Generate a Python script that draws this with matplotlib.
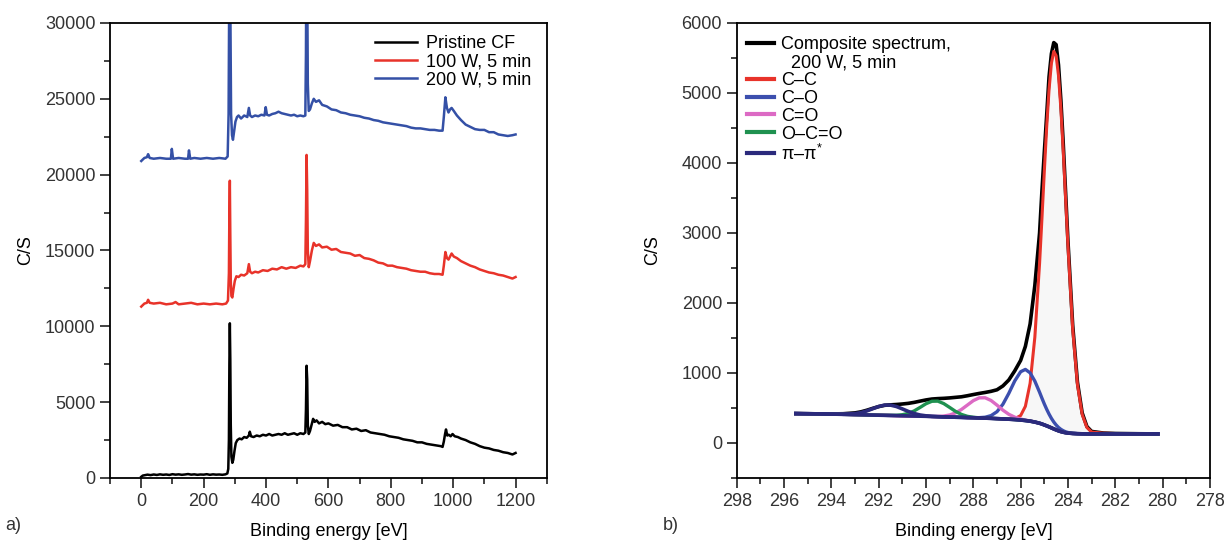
import matplotlib
matplotlib.use("Agg")
import matplotlib.pyplot as plt
from matplotlib.lines import Line2D
from matplotlib.ticker import MultipleLocator

plt.rcParams['font.family'] = ['Liberation Sans', 'DejaVu Sans']
plt.rcParams['font.size'] = 13
plt.rcParams['mathtext.fontset'] = 'custom'
plt.rcParams['mathtext.rm'] = 'Liberation Sans'

# ---- a) survey spectra (binding energy eV, counts/s) ----
pristine_be = [0, 5, 10, 20, 30, 40, 50, 60, 70, 80, 90, 100, 110, 120, 130, 140, 150, 160, 170, 180,
               190, 200, 210, 220, 230, 240, 250, 260, 270, 276, 279, 281, 282.5, 284, 285.5, 287, 289,
               292, 295, 299, 303, 308, 315, 322, 330, 338, 345, 348, 352, 360, 370, 380, 390, 400, 410,
               420, 430, 440, 450, 460, 470, 480, 490, 500, 510, 520, 526, 528, 530, 532, 534, 537, 541,
               546, 551, 556, 562, 570, 580, 590, 600, 615, 630, 645, 660, 675, 690, 705, 720, 735, 750,
               765, 780, 795, 810, 825, 840, 855, 870, 885, 900, 915, 930, 945, 960, 966, 970, 974, 977,
               981, 986, 992, 998, 1005, 1015, 1025, 1040, 1055, 1070, 1085, 1100, 1115, 1130, 1145,
               1160, 1175, 1190, 1200]
pristine_cs = [80, 160, 180, 220, 190, 230, 200, 240, 210, 230, 200, 250, 220, 240, 210, 230, 260, 220,
               240, 210, 230, 220, 250, 210, 240, 220, 230, 210, 240, 300, 600, 2500, 7500, 10200, 7800,
               3500, 1400, 1000, 1200, 1800, 2300, 2500, 2600, 2550, 2700, 2650, 2800, 3050, 2750, 2700,
               2800, 2750, 2850, 2800, 2900, 2800, 2850, 2900, 2850, 2950, 2850, 2900, 2950, 2850, 2950,
               2900, 3000, 4500, 7400, 6500, 3500, 2900, 3100, 3500, 3900, 3700, 3800, 3600, 3700, 3550,
               3600, 3450, 3500, 3350, 3350, 3200, 3250, 3100, 3150, 3000, 2950, 2900, 2850, 2750, 2700,
               2650, 2550, 2500, 2450, 2350, 2350, 2250, 2200, 2150, 2100, 2050, 2400, 2900, 3200, 2800,
               2850, 2750, 2900, 2750, 2700, 2600, 2500, 2350, 2250, 2100, 2000, 1950, 1850, 1800, 1700,
               1650, 1550, 1650]

w100_be = [0, 5, 10, 18, 22, 27, 40, 60, 80, 100, 110, 120, 140, 160, 180, 200, 220, 240, 260, 272, 278,
           281, 282.5, 284, 285.5, 287, 289, 292, 296, 300, 305, 312, 320, 330, 340, 345, 349, 355, 365,
           375, 390, 405, 420, 435, 450, 465, 480, 495, 510, 520, 526, 528, 530, 532, 534, 537, 541, 547,
           553, 560, 570, 580, 595, 610, 625, 640, 655, 670, 685, 700, 715, 730, 745, 760, 775, 790, 805,
           820, 835, 850, 865, 880, 895, 910, 925, 940, 955, 966, 970, 975, 980, 985, 990, 995, 1002,
           1012, 1025, 1040, 1055, 1070, 1085, 1100, 1115, 1130, 1145, 1160, 1175, 1190, 1200]
w100_cs = [11300, 11400, 11500, 11550, 11750, 11550, 11500, 11550, 11450, 11500, 11600, 11450, 11500,
           11550, 11450, 11500, 11450, 11500, 11450, 11500, 11700, 13500, 17500, 19600, 16000, 13000,
           12000, 11900, 12500, 13000, 13300, 13250, 13400, 13350, 13500, 14100, 13600, 13500, 13600,
           13550, 13700, 13650, 13800, 13750, 13900, 13800, 13900, 13850, 14000, 13950, 14100, 17000,
           21300, 19000, 15000, 13900, 14300, 15000, 15500, 15300, 15400, 15200, 15250, 15050, 15100,
           14900, 14850, 14800, 14650, 14700, 14500, 14450, 14350, 14200, 14150, 14000, 14000, 13900,
           13850, 13800, 13700, 13650, 13600, 13600, 13500, 13450, 13450, 13400, 14000, 14900, 14500,
           14400, 14600, 14800, 14600, 14500, 14300, 14150, 14000, 13900, 13750, 13650, 13550, 13500,
           13400, 13350, 13250, 13150, 13250]

w200_be = [0, 5, 10, 18, 22, 27, 40, 60, 80, 95, 98, 102, 120, 140, 150, 153, 157, 170, 190, 210, 230,
           250, 270, 277, 280, 282, 284, 286, 288, 291, 294, 298, 302, 307, 312, 320, 330, 340, 345, 349,
           355, 365, 375, 385, 395, 399, 403, 410, 420, 430, 440, 450, 460, 470, 480, 490, 500, 510, 520,
           526, 528, 530, 532, 534, 537, 541, 547, 553, 560, 570, 580, 595, 610, 625, 640, 655, 670, 685,
           700, 715, 730, 745, 760, 775, 790, 805, 820, 835, 850, 865, 880, 895, 910, 925, 940, 955, 966,
           970, 975, 980, 985, 990, 995, 1002, 1012, 1025, 1040, 1055, 1070, 1085, 1100, 1115, 1130,
           1145, 1160, 1175, 1190, 1200]
w200_cs = [20900, 21000, 21100, 21150, 21350, 21100, 21050, 21100, 21050, 21050, 21700, 21050, 21100,
           21050, 21050, 21600, 21050, 21100, 21050, 21100, 21050, 21100, 21050, 21200, 24000, 32000,
           40000, 30000, 24000, 22600, 22300, 22900, 23500, 23800, 23900, 23700, 23900, 23800, 24400,
           23900, 23800, 23900, 23850, 23950, 23900, 24450, 23950, 23900, 24000, 24050, 24150, 24050,
           24000, 23950, 23900, 23950, 23850, 23900, 23850, 23900, 28000, 38000, 33000, 26000, 24200,
           24300, 24700, 25000, 24800, 24900, 24600, 24500, 24300, 24250, 24100, 24050, 23950, 23900,
           23850, 23750, 23700, 23600, 23550, 23450, 23400, 23350, 23300, 23250, 23200, 23100, 23050,
           23050, 23000, 22950, 22950, 22900, 22900, 23800, 25100, 24400, 24100, 24300, 24400, 24200,
           23900, 23600, 23300, 23150, 23000, 22950, 22950, 22800, 22800, 22650, 22600, 22550, 22600,
           22650]

# ---- b) C1s high resolution, 200 W, 5 min ----
c1s_be = [295.5, 295.0, 294.5, 294.0, 293.5, 293.0, 292.75, 292.5, 292.25, 292.0, 291.75, 291.5, 291.25,
          291.0, 290.75, 290.5, 290.25, 290.0, 289.75, 289.5, 289.25, 289.0, 288.75, 288.5, 288.25, 288.0,
          287.75, 287.5, 287.25, 287.0, 286.75, 286.5, 286.25, 286.0, 285.8, 285.6, 285.4, 285.2, 285.1,
          285.0, 284.9, 284.8, 284.7, 284.6, 284.5, 284.4, 284.3, 284.2, 284.1, 284.0, 283.8, 283.6,
          283.4, 283.2, 283.0, 282.5, 282.0, 281.0, 280.2]
background = [420, 418, 416, 413, 409, 405, 403, 401, 399, 397, 395, 393, 391, 389, 387, 385, 383, 381,
              378, 376, 373, 371, 368, 366, 363, 361, 358, 355, 352, 348, 344, 340, 335, 328, 321, 312,
              299, 282, 271, 258, 245, 231, 216, 201, 187, 174, 163, 154, 147, 142, 136, 133, 131, 130,
              130, 130, 130, 130, 130]
composite = [420, 418, 416, 415, 418, 430, 445, 468, 495, 520, 538, 545, 550, 557, 566, 580, 598, 615,
             628, 634, 638, 644, 652, 660, 675, 692, 708, 722, 738, 760, 815, 900, 1030, 1180, 1380, 1700,
             2250, 3000, 3600, 4150, 4680, 5230, 5560, 5720, 5690, 5400, 4900, 4280, 3580, 2880, 1680,
             870, 430, 235, 165, 142, 136, 132, 130]
c_c = [420, 418, 416, 413, 409, 405, 403, 401, 399, 397, 395, 393, 391, 389, 387, 385, 383, 381, 378,
       376, 373, 371, 368, 366, 363, 361, 358, 355, 352, 348, 344, 342, 347, 392, 524, 852, 1511, 2566,
       3208, 3878, 4514, 5048, 5425, 5594, 5532, 5249, 4778, 4169, 3494, 2812, 1628, 835, 408, 222, 156,
       140, 135, 132, 130]
c_o = [420, 418, 416, 413, 409, 405, 403, 401, 399, 397, 395, 393, 391, 389, 387, 385, 383, 381, 378,
       376, 373, 371, 368, 366, 363, 361, 362, 368, 391, 447, 553, 709, 886, 1018, 1051, 1002, 884, 725,
       640, 558, 482, 413, 352, 300, 257, 222, 195, 175, 160, 150, 139, 133, 131, 130, 130, 130, 130,
       130, 130]
c_dbl_o = [420, 418, 416, 413, 409, 405, 403, 401, 399, 397, 395, 393, 391, 389, 387, 385, 383, 381, 379,
           380, 385, 400, 430, 479, 542, 605, 645, 646, 607, 541, 469, 410, 369, 342, 327, 315, 299, 282,
           271, 258, 245, 231, 216, 201, 187, 174, 163, 154, 147, 142, 136, 133, 131, 130, 130, 130, 130,
           130, 130]
o_c_o = [420, 418, 416, 413, 409, 405, 403, 401, 399, 397, 395, 395, 396, 404, 423, 458, 508, 561, 596,
         598, 563, 508, 451, 408, 381, 367, 360, 355, 352, 348, 344, 340, 335, 328, 321, 312, 299, 282, 271,
         258, 245, 231, 216, 201, 187, 174, 163, 154, 147, 142, 136, 133, 131, 130, 130, 130, 130, 130, 130]
pi_pi = [420, 418, 416, 413, 411, 420, 434, 458, 490, 521, 541, 541, 521, 487, 451, 421, 400, 388, 381,
         376, 373, 371, 368, 366, 363, 361, 358, 355, 352, 348, 344, 340, 335, 328, 321, 312, 299, 282, 271,
         258, 245, 231, 216, 201, 187, 174, 163, 154, 147, 142, 136, 133, 131, 130, 130, 130, 130, 130, 130]

fig = plt.figure(figsize=(12.27, 5.42), dpi=100)
ax1 = fig.add_axes([0.0897, 0.1181, 0.3559, 0.8395])
ax2 = fig.add_axes([0.6004, 0.1181, 0.3857, 0.8395])

# --- panel a ---
ax1.plot(pristine_be, pristine_cs, color='black', lw=1.8, label='Pristine CF')
ax1.plot(w100_be, w100_cs, color='#e8332a', lw=1.8, label='100 W, 5 min')
ax1.plot(w200_be, w200_cs, color='#3450a6', lw=1.8, label='200 W, 5 min')
ax1.set_xlim(-100, 1300)
ax1.set_ylim(0, 30000)
ax1.xaxis.set_major_locator(MultipleLocator(200))
ax1.xaxis.set_minor_locator(MultipleLocator(100))
ax1.yaxis.set_major_locator(MultipleLocator(5000))
ax1.yaxis.set_minor_locator(MultipleLocator(2500))
ax1.set_xlabel('Binding energy [eV]', labelpad=10)
ax1.set_ylabel('C/S', labelpad=8)
ax1.legend(loc='upper right', bbox_to_anchor=(0.98, 0.989), borderaxespad=0, frameon=False,
           handlelength=2.3, handletextpad=0.5, labelspacing=0.05)

# --- panel b ---
ax2.fill_between(c1s_be, background, c_c, color='#f7f7f7', lw=0)
ax2.plot(c1s_be, composite, color='black', lw=2.6)
ax2.plot(c1s_be, c_c, color='#e8332a', lw=2.2)
ax2.plot(c1s_be, c_o, color='#3c4fae', lw=2.4)
ax2.plot(c1s_be, c_dbl_o, color='#dc6ac4', lw=2.4)
ax2.plot(c1s_be, o_c_o, color='#1f9150', lw=2.4)
ax2.plot(c1s_be, pi_pi, color='#2b2a7c', lw=2.6)
ax2.plot(c1s_be, background, color='#2b2a7c', lw=2.6)
ax2.set_xlim(298, 278)
ax2.set_ylim(-500, 6000)
ax2.xaxis.set_major_locator(MultipleLocator(2))
ax2.xaxis.set_minor_locator(MultipleLocator(1))
ax2.yaxis.set_major_locator(MultipleLocator(1000))
ax2.yaxis.set_minor_locator(MultipleLocator(500))
ax2.set_xlabel('Binding energy [eV]', labelpad=10)
ax2.set_ylabel('C/S', labelpad=14.5)

handles = [Line2D([], [], color='black', lw=3),
           Line2D([], [], color='none', lw=3),
           Line2D([], [], color='#e8332a', lw=3),
           Line2D([], [], color='#3c4fae', lw=3),
           Line2D([], [], color='#dc6ac4', lw=3),
           Line2D([], [], color='#1f9150', lw=3),
           Line2D([], [], color='#2b2a7c', lw=3)]
labels = ['Composite spectrum,', '  200 W, 5 min', 'C\u2013C', 'C\u2013O', 'C=O', 'O\u2013C=O',
          '\u03c0\u2013\u03c0$^{*}$']
ax2.legend(handles, labels, loc='upper left', bbox_to_anchor=(0.006, 0.987), borderaxespad=0,
           frameon=False, handlelength=1.5, handletextpad=0.4, labelspacing=0.05)

for ax in (ax1, ax2):
    for sp in ax.spines.values():
        sp.set_linewidth(1.3)
    ax.tick_params(which='major', direction='out', length=7, width=1.3, labelsize=13, colors='#333333')
    ax.tick_params(which='minor', direction='out', length=4, width=1.3, colors='#333333')
    ax.tick_params(labelcolor='#333333')

fig.text(0.004, 0.022, 'a)', fontsize=13, color='#333333')
fig.text(0.540, 0.022, 'b)', fontsize=13, color='#333333')

fig.savefig('out.png', dpi=100)
